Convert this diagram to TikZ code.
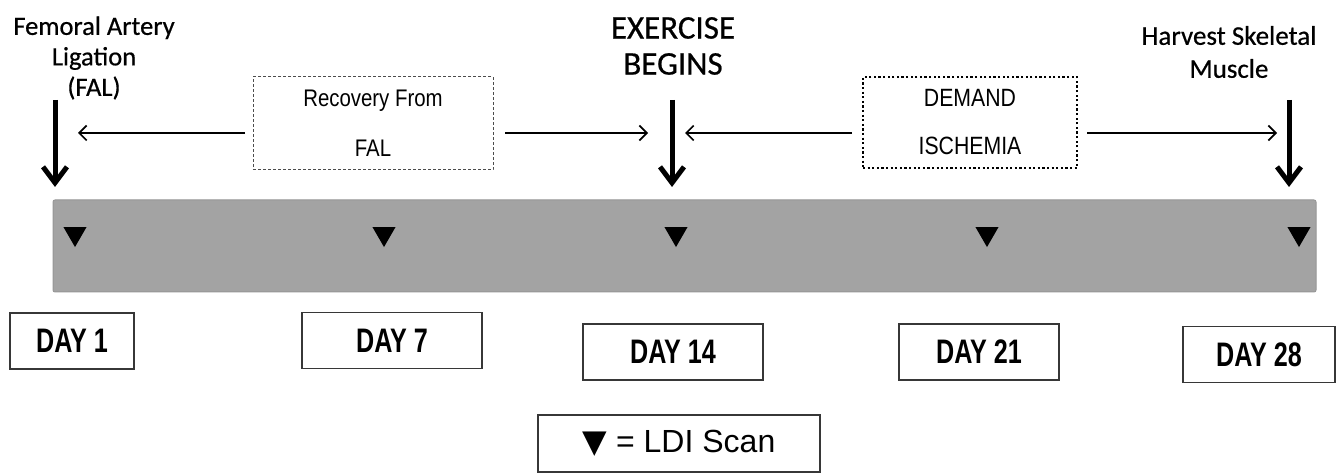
\documentclass[tikz,border=0pt]{standalone}
\usepackage{fontspec}
\setmainfont{Liberation Sans}
\newfontfamily\calfont[FakeBold=0.6]{Carlito}
\newfontfamily\dayfont[FakeStretch=0.74]{Liberation Sans}
\newfontfamily\narrowfont[FakeStretch=0.85]{Liberation Sans}
\newfontfamily\symfont{DejaVu Sans}
\usetikzlibrary{arrows.meta,shapes.geometric}
\definecolor{barcol}{RGB}{163,163,163}
\definecolor{baredge}{RGB}{150,150,150}
\definecolor{boxedge}{RGB}{55,55,55}
\begin{document}
\begin{tikzpicture}[x=1pt,y=-1pt,
  daybox/.style={draw=boxedge, line width=1.3pt, fill=white, inner sep=0pt,
    minimum height=56pt, font=\dayfont\bfseries\fontsize{34}{34}\selectfont},
  toplabel/.style={align=center, inner sep=0pt, text=black},
  tri/.style={regular polygon, regular polygon sides=3, shape border rotate=180,
    fill=black, inner sep=0pt, minimum size=26.7pt},
  bigarrow/.style={line width=5pt, -{Straight Barb[length=16pt,width=24pt]}},
  thinarrow/.style={line width=1.7pt, -{Straight Barb[length=7.5pt,width=15pt]}},
  dashbox/.style={draw=black!70, line width=1pt, dash pattern=on 3pt off 2pt,
    minimum width=240pt, minimum height=93pt, inner sep=0pt, align=center},
  dotbox/.style={draw=black, line width=2.2pt, dash pattern=on 2.2pt off 2.4pt,
    minimum width=214pt, minimum height=91pt, inner sep=0pt, align=center}
]
\useasboundingbox (0,0) rectangle (1342,473);

% gray bar
\node[fill=barcol, draw=baredge, line width=1pt, rounded corners=2pt,
  minimum width=1263pt, minimum height=92pt, inner sep=0pt] (bar) at (684.5,246) {};

% scan triangles
\node[tri] (t1) at (75,233.7) {};
\node[tri] (t7) at (384,233.7) {};
\node[tri] (t14) at (676,233.7) {};
\node[tri] (t21) at (987,233.7) {};
\node[tri] (t28) at (1299,233.7) {};

% top labels
\node[toplabel, font=\calfont\fontsize{26.5}{30.5}\selectfont] (fal) at (94,58) {Femoral Artery\\Ligation\\(FAL)};
\node[toplabel, font=\calfont\fontsize{33}{36}\selectfont] (ex) at (673,46) {EXERCISE\\BEGINS};
\node[toplabel, font=\calfont\fontsize{27}{33}\selectfont] (hv) at (1229,52) {Harvest Skeletal\\Muscle};

% big arrows
\coordinate (fa0) at (55,100); \coordinate (fa1) at (55,187);
\coordinate (ea0) at (672,100); \coordinate (ea1) at (672,187);
\coordinate (ha0) at (1289,100); \coordinate (ha1) at (1289,187);
\draw[bigarrow] (fa0) -- (fa1);
\draw[bigarrow] (ea0) -- (ea1);
\draw[bigarrow] (ha0) -- (ha1);

% phase boxes
\node[dashbox, font=\narrowfont\fontsize{24}{50}\selectfont] (rec) at (373,123.5) {Recovery From\\FAL};
\node[dotbox, font=\narrowfont\fontsize{25}{48}\selectfont] (dem) at (970,122.5) {DEMAND\\ISCHEMIA};

% thin arrows
\coordinate (r0) at (245,133); \coordinate (r1) at (78,133);
\coordinate (r2) at (505,133); \coordinate (r3) at (648,133);
\coordinate (d0) at (852,133); \coordinate (d1) at (685,133);
\coordinate (d2) at (1087,133); \coordinate (d3) at (1277,133);
\draw[thinarrow] (r0) -- (r1);
\draw[thinarrow] (r2) -- (r3);
\draw[thinarrow] (d0) -- (d1);
\draw[thinarrow] (d2) -- (d3);

% day boxes
\node[daybox, minimum width=124pt] (day1) at (72,341) {DAY 1};
\node[daybox, minimum width=180pt] (day7) at (392,340.5) {DAY 7};
\node[daybox, minimum width=180pt] (day14) at (673,352) {DAY 14};
\node[daybox, minimum width=160pt] (day21) at (979,352) {DAY 21};
\node[daybox, minimum width=152pt] (day28) at (1259,354.5) {DAY 28};

% legend
\node[draw=boxedge, line width=1.3pt, fill=white, inner sep=0pt,
  minimum width=282pt, minimum height=57pt, font=\fontsize{32}{32}\selectfont]
  (legend) at (679,443.5) {{\symfont\fontsize{32}{32}\selectfont ▼} = LDI Scan};
\end{tikzpicture}
\end{document}
